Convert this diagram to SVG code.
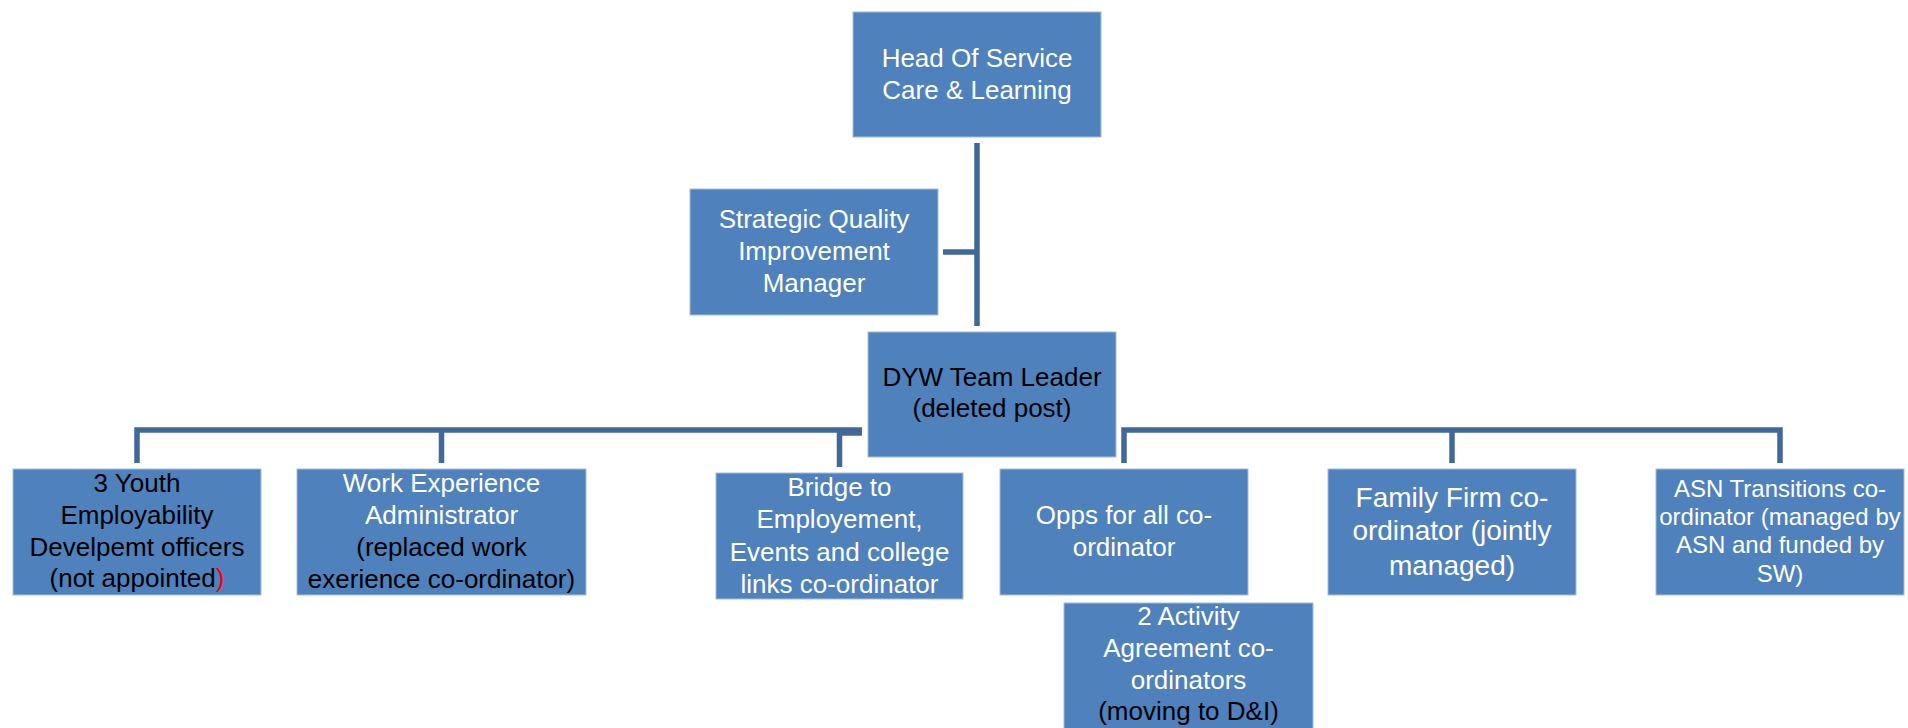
<svg xmlns="http://www.w3.org/2000/svg" width="1908" height="728" viewBox="0 0 1908 728">
<style>
.box{fill:#4F81BD;stroke:#A3BCDD;stroke-width:1}
.t{font-family:"Liberation Sans",Arial,sans-serif;font-size:26px;text-anchor:middle;fill:#FFFFFF}
.k{fill:#000000}
.r{fill:#FF0000}
.c{fill:none;stroke:#40689A;stroke-width:5.5;stroke-linejoin:miter}
</style>
<rect width="1908" height="728" fill="#FFFFFF"/>
<g id="connectors">
<path class="c" d="M977,143 V326"/>
<path class="c" d="M943,252 H977"/>
<path class="c" d="M862,430 H137 V463"/>
<path class="c" d="M441.5,430 V463"/>
<path class="c" d="M862,433 H839.5 V467"/>
<path class="c" d="M1124,463 V430 H1780 V463"/>
<path class="c" d="M1452,430 V463"/>
</g>
<g id="head">
<rect class="box" x="853" y="12" width="248" height="125"/>
<text class="t" x="977" y="67">Head Of Service</text>
<text class="t" x="977" y="99">Care &amp; Learning</text>
</g>
<g id="strategic">
<rect class="box" x="690" y="189" width="248" height="126"/>
<text class="t" x="814" y="228">Strategic Quality</text>
<text class="t" x="814" y="260">Improvement</text>
<text class="t" x="814" y="292">Manager</text>
</g>
<g id="dyw">
<rect class="box" x="868" y="332" width="248" height="125"/>
<text class="t k" x="992" y="386">DYW Team Leader</text>
<text class="t k" x="992" y="417">(deleted post)</text>
</g>
<g id="youth">
<rect class="box" x="13" y="469" width="248" height="126"/>
<text class="t k" x="137" y="492">3 Youth</text>
<text class="t k" x="137" y="524">Employability</text>
<text class="t k" x="137" y="556">Develpemt officers</text>
<text class="t k" x="137" y="587">(not appointed<tspan class="r">)</tspan></text>
</g>
<g id="workexp">
<rect class="box" x="297" y="469" width="289" height="126"/>
<text class="t" x="441.5" y="492">Work Experience</text>
<text class="t" x="441.5" y="524">Administrator</text>
<text class="t k" x="441.5" y="556">(replaced work</text>
<text class="t k" x="441.5" y="588">exerience co-ordinator)</text>
</g>
<g id="bridge">
<rect class="box" x="716" y="473" width="247" height="126"/>
<text class="t" x="839.5" y="496">Bridge to</text>
<text class="t" x="839.5" y="528">Employement,</text>
<text class="t" x="839.5" y="561">Events and college</text>
<text class="t" x="839.5" y="593">links co-ordinator</text>
</g>
<g id="opps">
<rect class="box" x="1000" y="469" width="248" height="126"/>
<text class="t" x="1124" y="524">Opps for all co-</text>
<text class="t" x="1124" y="556">ordinator</text>
</g>
<g id="activity">
<rect class="box" x="1064" y="603" width="249" height="140"/>
<text class="t" x="1188.5" y="625">2 Activity</text>
<text class="t" x="1188.5" y="657">Agreement co-</text>
<text class="t" x="1188.5" y="689">ordinators</text>
<text class="t k" x="1188.5" y="720">(moving to D&amp;I)</text>
</g>
<g id="family">
<rect class="box" x="1328" y="469" width="248" height="126"/>
<text class="t" x="1452" y="507" style="font-size:28px">Family Firm co-</text>
<text class="t" x="1452" y="540" style="font-size:28px">ordinator (jointly</text>
<text class="t" x="1452" y="575" style="font-size:28px">managed)</text>
</g>
<g id="asn">
<rect class="box" x="1656" y="469" width="248" height="126"/>
<text class="t" x="1780" y="497" style="font-size:24px">ASN Transitions co-</text>
<text class="t" x="1780" y="525" style="font-size:24px">ordinator (managed by</text>
<text class="t" x="1780" y="553" style="font-size:24px">ASN and funded by</text>
<text class="t" x="1780" y="582" style="font-size:24px">SW)</text>
</g>
</svg>
